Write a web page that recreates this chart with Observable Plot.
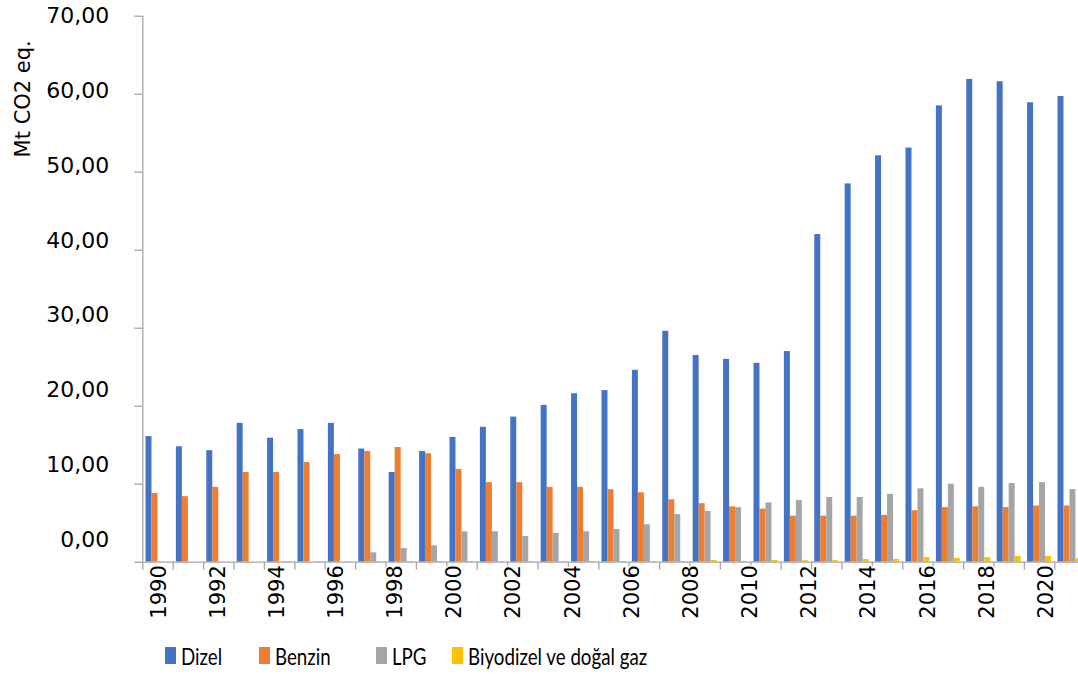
<!DOCTYPE html>
<html>
<head>
<meta charset="utf-8">
<script src="https://cdn.jsdelivr.net/npm/d3@7"></script>
<script src="https://cdn.jsdelivr.net/npm/@observablehq/plot@0.6"></script>
<style>
  html, body { margin: 0; padding: 0; background: #fff; overflow: hidden; }
  #legend {
    display: flex; align-items: center; height: 46px; padding-left: 165px;
    font-family: Lato, "Noto Sans", sans-serif;
    font-size: 24px; color: #000;
  }
  #legend .item { display: flex; align-items: center; white-space: nowrap; }
  #legend .item:nth-child(1) { width: 94px; }
  #legend .item:nth-child(2) { width: 117px; }
  #legend .item:nth-child(3) { width: 76px; }
  #legend .swatch { width: 11px; height: 17px; margin-right: 5px; flex: none; }
  #legend .name { display: inline-block; transform: scaleX(0.78); transform-origin: left center; }
</style>
</head>
<body>
<div id="chart"></div>
<div id="legend"></div>
<script>
// Road transport emissions by fuel type, Mt CO2 eq.
const years = [1990, 1991, 1992, 1993, 1994, 1995, 1996, 1997, 1998, 1999,
               2000, 2001, 2002, 2003, 2004, 2005, 2006, 2007, 2008, 2009,
               2010, 2011, 2012, 2013, 2014, 2015, 2016, 2017, 2018, 2019, 2020];

const dizel = [16.1, 14.8, 14.3, 17.8, 15.9, 17.0, 17.8, 14.5, 11.5, 14.2,
               16.0, 17.3, 18.6, 20.1, 21.6, 22.0, 24.6, 29.6, 26.5, 26.0,
               25.5, 27.0, 42.0, 48.5, 52.1, 53.1, 58.5, 61.9, 61.6, 58.9, 59.7];

const benzin = [8.8, 8.4, 9.6, 11.5, 11.5, 12.8, 13.8, 14.2, 14.7, 13.9,
                11.9, 10.2, 10.2, 9.6, 9.6, 9.3, 8.9, 8.0, 7.5, 7.1,
                6.8, 5.9, 5.9, 5.9, 6.0, 6.6, 7.0, 7.1, 7.0, 7.2, 7.2];

const lpg = [0, 0, 0, 0, 0, 0, 0, 1.2, 1.75, 2.1,
             3.9, 3.9, 3.3, 3.7, 3.9, 4.2, 4.8, 6.1, 6.5, 7.0,
             7.6, 7.9, 8.3, 8.3, 8.7, 9.4, 10.0, 9.6, 10.1, 10.2, 9.3];

const biyodizel = [0, 0, 0, 0, 0.08, 0.08, 0.08, 0.08, 0.08, 0.08,
                   0.08, 0.08, 0.08, 0.08, 0.08, 0.08, 0.08, 0.08, 0.22, 0.08,
                   0.22, 0.2, 0.2, 0.35, 0.35, 0.6, 0.5, 0.6, 0.75, 0.75, 0.45];

const seriesNames = ["Dizel", "Benzin", "LPG", "Biyodizel ve doğal gaz"];
const seriesColors = ["#4472C4", "#ED7D31", "#A5A5A5", "#FFC000"];
const yTicks = [0, 10, 20, 30, 40, 50, 60, 70];
const yearLabels = [1990, 1992, 1994, 1996, 1998, 2000, 2002, 2004,
                    2006, 2008, 2010, 2012, 2014, 2016, 2018, 2020];

// Long table: one row per year and fuel, with the fuel's slot inside the year group.
const seriesValues = [dizel, benzin, lpg, biyodizel];
const rows = years.flatMap((year, i) =>
  seriesNames.map((name, slot) => ({year, name, slot, value: seriesValues[slot][i]})));

// Each year occupies one unit on x; the four bars share it with a small gap at each side.
const groupInset = 0.105;
const slotWidth = 0.197;
const barX1 = d => d.year - 0.5 + groupInset + d.slot * slotWidth;
const barX2 = d => d.year - 0.5 + groupInset + (d.slot + 1) * slotWidth;

// Category boundaries carry the x ticks.
const boundaries = years.map(y => y - 0.5);

// Tick labels are laid out on a slightly tighter pitch than the ticks themselves.
const yMax = 70;
const yLabelPitch = 0.959;
const xLabelPitch = 0.973;
const fmt = v => v.toFixed(2).replace(".", ",");
const axisGray = "#a6a6a6";

const chart = Plot.plot({
  width: 1078,
  height: 632,
  marginTop: 15.7,
  marginBottom: 70.3,
  marginLeft: 142.3,
  marginRight: 0,
  x: {type: "linear", domain: [1989.5, 2020.28], label: null},
  y: {domain: [0, yMax], label: null},
  color: {domain: seriesNames, range: seriesColors},
  style: {fontFamily: "DejaVu Sans", fontSize: "21px", color: "#000", background: "#fff"},
  marks: [
    Plot.rect(rows, {x1: barX1, x2: barX2, y1: 0, y2: "value", fill: "name"}),
    Plot.axisY(yTicks, {tickSize: 8, stroke: axisGray, strokeWidth: 1.3, fill: "none", label: null}),
    Plot.axisX(boundaries, {tickSize: 8, stroke: axisGray, strokeWidth: 1.3, fill: "none", label: null}),
    Plot.text(yTicks, {
      y: v => yMax - (yMax - v) * yLabelPitch,
      text: fmt,
      frameAnchor: "left",
      textAnchor: "end",
      dx: -33.5,
      fontSize: 22,
      fill: "#000"
    }),
    Plot.text(yearLabels, {
      x: y => years[0] + 0.026 + (y - years[0]) * xLabelPitch,
      text: y => String(y),
      frameAnchor: "bottom",
      rotate: -90,
      textAnchor: "end",
      lineAnchor: "middle",
      dy: 3,
      fontSize: 21,
      fill: "#000",
      stroke: "#fff",
      strokeWidth: 3
    }),
    Plot.ruleX([1989.5], {stroke: axisGray, strokeWidth: 1.3}),
    Plot.ruleY([0], {stroke: axisGray, strokeWidth: 1.3}),
    Plot.text(["Mt CO2 eq."], {
      text: d => d,
      frameAnchor: "top-left",
      rotate: -90,
      textAnchor: "end",
      lineAnchor: "middle",
      dx: -120,
      dy: 24,
      fontSize: 21,
      fill: "#000"
    })
  ]
});
document.getElementById("chart").appendChild(chart);

// Legend below the plot
const legend = d3.select("#legend");
seriesNames.forEach((name, i) => {
  const item = legend.append("div").attr("class", "item");
  item.append("div").attr("class", "swatch").style("background", seriesColors[i]);
  item.append("span").attr("class", "name").text(name);
});
</script>
</body>
</html>
